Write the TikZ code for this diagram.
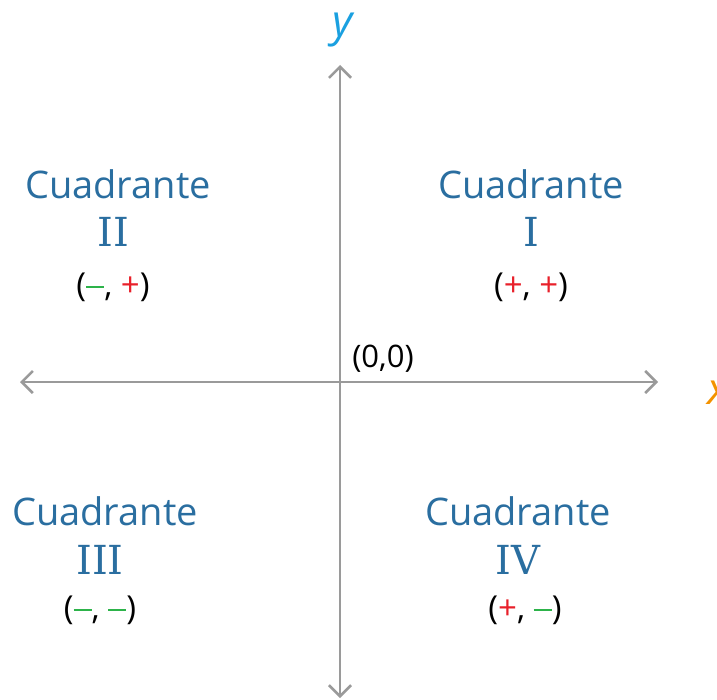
\documentclass[tikz,border=0pt]{standalone}
\usepackage{fontspec}
\setmainfont{Open Sans}
\newfontfamily\numfont{DejaVu Serif}
\usetikzlibrary{arrows.meta}
\definecolor{axisgray}{HTML}{9A9A9A}
\definecolor{qblue}{HTML}{2A6EA0}
\definecolor{ycyan}{HTML}{1AA0E0}
\definecolor{xorange}{HTML}{F39200}
\definecolor{sgreen}{HTML}{2DB34A}
\definecolor{sred}{HTML}{E8202A}
\tikzset{
  axisline/.style={draw=axisgray, line width=2.6pt, {Straight Barb[length=11pt,width=22pt,line width=2.6pt]}-{Straight Barb[length=11pt,width=22pt,line width=2.6pt]}},
  quad/.style={text=qblue, font=\fontsize{38}{42}\selectfont, inner sep=0pt, anchor=center},
  roman/.style={text=qblue, font=\numfont\fontsize{40}{44}\selectfont, inner sep=0pt, anchor=center},
  sign/.style={text=black, font=\fontsize{33}{36}\selectfont, inner sep=0pt, anchor=center},
}
\newcommand{\mn}{\textcolor{sgreen}{\rule[0.25em]{0.55em}{1.8pt}}}
\newcommand{\pl}{\textcolor{sred}{+}}
\begin{document}
\begin{tikzpicture}[x=1pt,y=-1pt]
\useasboundingbox (0,0) rectangle (717,700);
\coordinate (xl) at (20,382);
\coordinate (xr) at (658,382);
\coordinate (yt) at (340,65);
\coordinate (yb) at (340,698);
\draw[axisline] (xl) -- (xr);
\draw[axisline] (yb) -- (yt);
\node[text=ycyan, font=\fontsize{44}{48}\selectfont\itshape, inner sep=0pt] (ylab) at (343,30) {y};
\node[text=xorange, font=\fontsize{44}{48}\selectfont\itshape, inner sep=0pt] (xlab) at (718,393) {x};
\node[sign, font=\fontsize{31}{34}\selectfont] (origin) at (383,359) {(0,0)};
% Quadrant I
\node[quad] (q1a) at (531,184) {Cuadrante};
\node[roman] (q1b) at (531,232) {I};
\node[sign] (q1c) at (531,287) {(\pl, \pl)};
% Quadrant II
\node[quad] (q2a) at (118,184) {Cuadrante};
\node[roman] (q2b) at (113,232) {II};
\node[sign] (q2c) at (113,287) {(\mn, \pl)};
% Quadrant III
\node[quad] (q3a) at (105,511) {Cuadrante};
\node[roman] (q3b) at (100,560) {III};
\node[sign] (q3c) at (100,610) {(\mn, \mn)};
% Quadrant IV
\node[quad] (q4a) at (518,511) {Cuadrante};
\node[roman] (q4b) at (518,560) {IV};
\node[sign] (q4c) at (525,610) {(\pl, \mn)};
\end{tikzpicture}
\end{document}
